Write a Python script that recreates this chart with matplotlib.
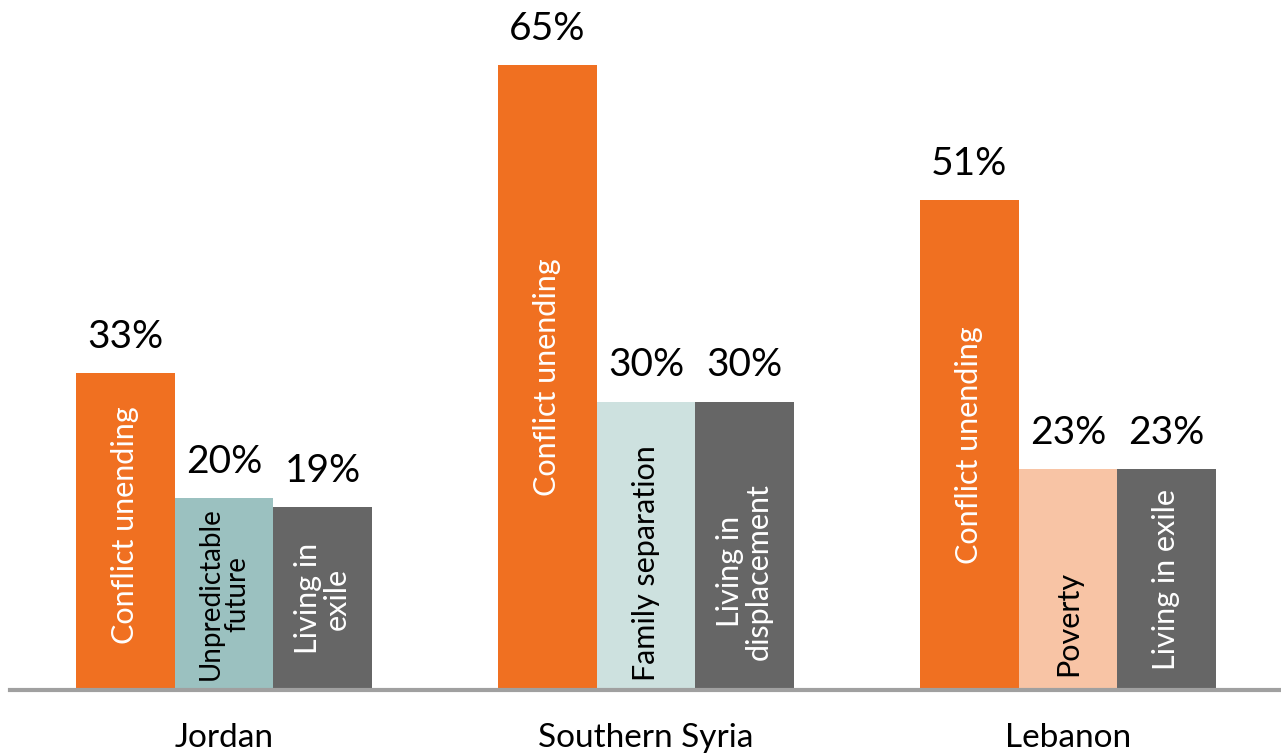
import numpy as np
import matplotlib.pyplot as plt

# data
regions = ["Jordan", "Southern Syria", "Lebanon"]
values = [[33, 20, 19], [65, 30, 30], [51, 23, 23]]
bar_text = [["Conflict unending", "Unpredictable\nfuture", "Living in\nexile"],
            ["Conflict unending", "Family separation", "Living in\ndisplacement"],
            ["Conflict unending", "Poverty", "Living in exile"]]

bar_colors = [["#F07021", "#9BC1C0", "#666666"],
              ["#F07021", "#CDE1DF", "#666666"],
              ["#F07021", "#F8C4A5", "#666666"]]
text_colors = [["white", "black", "white"],
               ["white", "black", "white"],
               ["white", "black", "white"]]
# where the inner text sits, as a fraction of bar height
text_pos = [[0.52, 0.5, 0.5], [0.5, 0.44, 0.41], [0.5, 0.30, 0.5]]
text_size = [[22, 20, 22], [22, 22, 22], [22, 22, 22]]

plt.rcParams['font.family'] = ['Lato', 'DejaVu Sans']

fig = plt.figure(figsize=(12.81, 7.55), dpi=100)
ax = fig.add_axes([10 / 1281, 1 - 690 / 755, 1271 / 1281, 690 / 755])

w = 0.2334
for i, reg in enumerate(regions):
    for j in range(3):
        x = i + (j - 1) * w
        v = values[i][j]
        ax.bar(x, v, width=w, color=bar_colors[i][j], linewidth=0)
        ax.text(x, v + 1.9, f"{v}%", ha="center", va="bottom", fontsize=28)
        ax.text(x, v * text_pos[i][j], bar_text[i][j], rotation=90,
                ha="center", va="center", fontsize=text_size[i][j],
                color=text_colors[i][j], linespacing=1.0)

ax.set_xlim(-0.507, 2.505)
ax.set_ylim(0, 71.8)
ax.axhline(0, color="#A0A0A0", linewidth=3, clip_on=False)
for s in ax.spines.values():
    s.set_visible(False)
ax.set_yticks([])
ax.set_xticks(range(3))
ax.set_xticklabels(regions, fontsize=24)
ax.tick_params(axis="x", length=0, pad=24)

fig.savefig("out.png", dpi=100)
